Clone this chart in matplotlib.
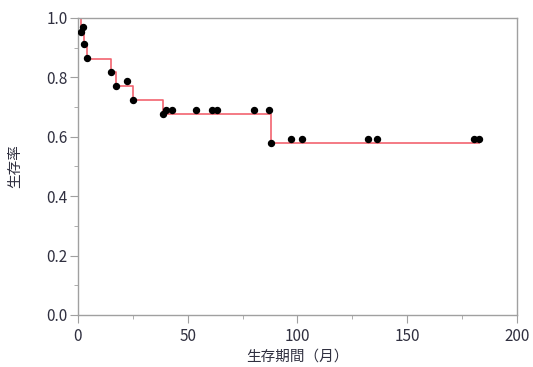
import matplotlib
matplotlib.use('Agg')
import matplotlib.pyplot as plt
from matplotlib.ticker import MultipleLocator, FormatStrFormatter

plt.rcParams['font.family'] = ['Noto Sans CJK JP', 'DejaVu Sans']

# Kaplan-Meier step curve
step_time = [0, 1.5, 2.7, 4.0, 15.0, 17.5, 25.2, 38.7, 88.0, 182.7]
step_surv = [1.0, 0.955, 0.909, 0.863, 0.818, 0.772, 0.724, 0.676, 0.578, 0.578]

# plotted points
pt_time = [1.6, 2.5, 2.6, 4.0, 14.9, 17.5, 22.5, 25.2, 38.6, 40.3, 43.0,
           53.8, 61.0, 63.2, 80.1, 86.8, 88.1, 96.9, 102.0, 132.3, 136.1,
           180.5, 182.7]
pt_surv = [0.954, 0.969, 0.911, 0.864, 0.819, 0.772, 0.787, 0.724, 0.677,
           0.690, 0.690, 0.690, 0.690, 0.690, 0.690, 0.690, 0.578, 0.594,
           0.594, 0.594, 0.594, 0.594, 0.594]

fig = plt.figure(figsize=(5.33, 3.67), dpi=100)
ax = fig.add_axes([0.1463, 0.1417, 0.8237, 0.8093])

ax.plot(step_time, step_surv, drawstyle='steps-post', color='#f26470', linewidth=1.2, zorder=2)
ax.plot(pt_time, pt_surv, 'o', color='black', markersize=4.3, zorder=3)

ax.set_xlim(0, 200)
ax.set_ylim(0, 1.0)
ax.xaxis.set_major_locator(MultipleLocator(50))
ax.xaxis.set_minor_locator(MultipleLocator(25))
ax.yaxis.set_major_locator(MultipleLocator(0.2))
ax.yaxis.set_minor_locator(MultipleLocator(0.1))
ax.yaxis.set_major_formatter(FormatStrFormatter('%.1f'))

for s in ax.spines.values():
    s.set_color('#a0a0a0')
    s.set_linewidth(1.0)
ax.tick_params(which='both', direction='out', color='#a0a0a0', labelcolor='#303040', labelsize=11)
ax.tick_params(which='major', length=5.8, pad=1.5)
ax.tick_params(axis='x', which='major', pad=3.5)
ax.tick_params(which='minor', length=3)

ax.set_xlabel('生存期間（月）', fontsize=10.5, color='#303040')
ax.set_ylabel('生存率', fontsize=10.5, color='#303040')
ax.xaxis.set_label_coords(0.5, -0.115)
ax.yaxis.set_label_coords(-0.128, 0.5)

fig.savefig('out.png', dpi=100)
